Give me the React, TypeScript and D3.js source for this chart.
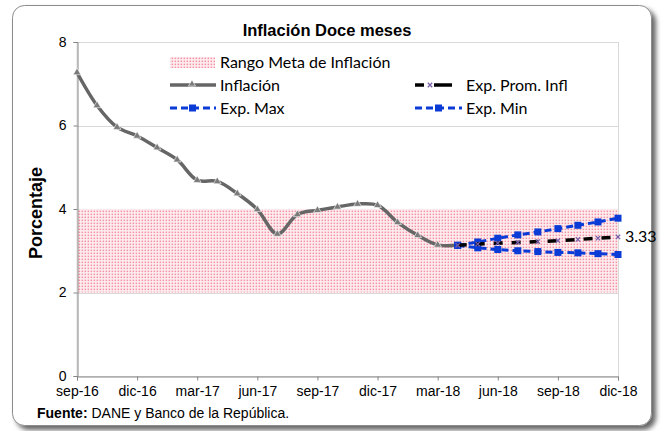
import * as d3 from 'd3';
import React, { useEffect, useRef } from 'react';

// month index 0 = sep-16 ... 27 = dic-18
const tickLabels = ['sep-16', 'dic-16', 'mar-17', 'jun-17', 'sep-17', 'dic-17', 'mar-18', 'jun-18', 'sep-18', 'dic-18'];
const yTicks = [0, 2, 4, 6, 8];

// Inflación: sep-16 .. abr-18
const inflacion = [7.27, 6.48, 5.96, 5.75, 5.47, 5.18, 4.69, 4.66, 4.37, 3.99, 3.4, 3.87, 3.97, 4.05, 4.12, 4.09, 3.68, 3.37, 3.14, 3.13];
// expectativas: abr-18 .. dic-18
const expStart = 19;
const expMax = [3.13, 3.21, 3.3, 3.38, 3.45, 3.53, 3.61, 3.69, 3.78];
const expMin = [3.13, 3.07, 3.03, 3.0, 2.98, 2.96, 2.95, 2.93, 2.91];
const expProm = [3.13, 3.16, 3.18, 3.2, 3.22, 3.24, 3.27, 3.3, 3.33];
const rangoMeta = [2, 4];

const W = 661;
const H = 431;
const plot = { left: 77, right: 618, top: 42, bottom: 376 };
const legendFont = 'Lato, "Open Sans", sans-serif';
const axisFont = 'Arial, "Liberation Sans", sans-serif';

const App = () => {
  const ref = useRef(null);

  useEffect(() => {
    const svg = d3.select(ref.current);
    svg.selectAll('*').remove();

    const x = d3.scaleLinear().domain([0, 27]).range([plot.left, plot.right]);
    const y = d3.scaleLinear().domain([0, 8]).range([plot.bottom, plot.top]);

    const defs = svg.append('defs');
    const pat = defs
      .append('pattern')
      .attr('id', 'dots')
      .attr('width', 3)
      .attr('height', 3)
      .attr('patternUnits', 'userSpaceOnUse');
    pat.append('rect').attr('width', 3).attr('height', 3).attr('fill', '#fdeef1');
    pat.append('rect').attr('x', 0.6).attr('y', 0.6).attr('width', 1.5).attr('height', 1.5).attr('fill', '#f4909f');

    const sh = defs.append('filter').attr('id', 'shadow').attr('x', '-5%').attr('y', '-5%').attr('width', '115%').attr('height', '115%');
    sh.append('feDropShadow').attr('dx', 4).attr('dy', 4).attr('stdDeviation', 2.5).attr('flood-color', '#000').attr('flood-opacity', 0.6);

    // outer frame
    svg
      .append('rect')
      .attr('x', 12.5)
      .attr('y', 5.5)
      .attr('width', 639)
      .attr('height', 420)
      .attr('rx', 12)
      .attr('fill', '#fff')
      .attr('stroke', '#8c8c8c')
      .attr('filter', 'url(#shadow)');

    // plot border + grid
    svg
      .append('rect')
      .attr('x', plot.left)
      .attr('y', plot.top + 0.5)
      .attr('width', plot.right - plot.left + 0.5)
      .attr('height', plot.bottom - plot.top)
      .attr('fill', 'none')
      .attr('stroke', '#d9d9d9');

    svg
      .append('g')
      .selectAll('line')
      .data(yTicks.filter(d => d > 0))
      .enter()
      .append('line')
      .attr('x1', plot.left)
      .attr('x2', plot.right)
      .attr('y1', d => Math.round(y(d)) + 0.5)
      .attr('y2', d => Math.round(y(d)) + 0.5)
      .attr('stroke', '#d9d9d9');

    // target range
    svg
      .append('rect')
      .attr('x', x(0))
      .attr('y', y(rangoMeta[1]))
      .attr('width', x(27) - x(0))
      .attr('height', y(rangoMeta[0]) - y(rangoMeta[1]))
      .attr('fill', 'url(#dots)');

    // axes
    const yAxis = svg
      .append('g')
      .attr('transform', `translate(${plot.left + 0.5},0)`)
      .call(d3.axisLeft(y).tickValues(yTicks).tickSize(4).tickPadding(7).tickFormat(d3.format('d')));
    yAxis.select('.domain').attr('stroke', '#868686');
    yAxis.selectAll('.tick line').attr('stroke', '#868686');
    yAxis.selectAll('text').attr('font-family', axisFont).attr('font-size', 14).attr('fill', '#000');

    const xAxis = svg
      .append('g')
      .attr('transform', `translate(0,${plot.bottom + 0.5})`)
      .call(
        d3
          .axisBottom(x)
          .tickValues(tickLabels.map((_, i) => i * 3))
          .tickSize(4)
          .tickPadding(6)
          .tickFormat((d, i) => tickLabels[i])
      );
    xAxis.select('.domain').attr('stroke', '#868686');
    xAxis.selectAll('.tick line').attr('stroke', '#868686');
    xAxis.selectAll('text').attr('font-family', axisFont).attr('font-size', 14).attr('fill', '#000');

    // series
    const infLine = d3
      .line()
      .x((d, i) => x(i))
      .y(d => y(d))
      .curve(d3.curveCatmullRom.alpha(0.5));
    const expLine = d3
      .line()
      .x((d, i) => x(i + expStart))
      .y(d => y(d));

    svg
      .append('path')
      .datum(inflacion)
      .attr('d', infLine)
      .attr('fill', 'none')
      .attr('stroke', '#666')
      .attr('stroke-width', 3.5);
    svg
      .append('g')
      .selectAll('path')
      .data(inflacion)
      .enter()
      .append('path')
      .attr('d', d3.symbol(d3.symbolTriangle, 26))
      .attr('transform', (d, i) => `translate(${x(i)},${y(d)})`)
      .attr('fill', '#7a7a7a')
      .attr('stroke', '#fff')
      .attr('stroke-width', 0.6);

    const blue = '#0b3bd6';
    [expMax, expMin].forEach(s => {
      svg
        .append('path')
        .datum(s)
        .attr('d', expLine)
        .attr('fill', 'none')
        .attr('stroke', blue)
        .attr('stroke-width', 3)
        .attr('stroke-dasharray', '7,4');
      svg
        .append('g')
        .selectAll('rect')
        .data(s)
        .enter()
        .append('rect')
        .attr('x', (d, i) => x(i + expStart) - 3.5)
        .attr('y', d => y(d) - 3.5)
        .attr('width', 7)
        .attr('height', 7)
        .attr('fill', blue);
    });

    svg
      .append('path')
      .datum(expProm)
      .attr('d', expLine)
      .attr('fill', 'none')
      .attr('stroke', '#000')
      .attr('stroke-width', 3.5)
      .attr('stroke-dasharray', '9,9');
    const cross = d3.symbol(d3.symbolX, 14);
    svg
      .append('g')
      .selectAll('path')
      .data(expProm)
      .enter()
      .append('path')
      .attr('d', cross)
      .attr('transform', (d, i) => `translate(${x(i + expStart)},${y(d)})`)
      .attr('fill', 'none')
      .attr('stroke', '#7a5fa8')
      .attr('stroke-width', 1.3);

    svg
      .append('text')
      .attr('x', x(27) + 7)
      .attr('y', y(expProm[expProm.length - 1]) + 5.5)
      .attr('font-family', legendFont)
      .attr('font-size', 16)
      .text(d3.format('.2f')(expProm[expProm.length - 1]));

    // title & labels
    svg
      .append('text')
      .attr('x', 327)
      .attr('y', 36)
      .attr('text-anchor', 'middle')
      .attr('font-family', axisFont)
      .attr('font-weight', 'bold')
      .attr('font-size', 16.5)
      .text('Inflación Doce meses');

    svg
      .append('text')
      .attr('transform', `translate(42,${(plot.top + plot.bottom) / 2 + 4}) rotate(-90)`)
      .attr('text-anchor', 'middle')
      .attr('font-family', axisFont)
      .attr('font-weight', 'bold')
      .attr('font-size', 18)
      .text('Porcentaje');

    const foot = svg
      .append('text')
      .attr('x', 37)
      .attr('y', 418)
      .attr('font-family', axisFont)
      .attr('font-size', 14);
    foot.append('tspan').attr('font-weight', 'bold').text('Fuente:');
    foot.append('tspan').text(' DANE y Banco de la República.');

    // legend
    const lg = svg.append('g').attr('font-family', legendFont).attr('font-size', 16);
    const addText = (tx, ty, t) =>
      lg.append('text').attr('x', tx).attr('y', ty + 5.5).text(t);

    lg.append('rect').attr('x', 170).attr('y', 57).attr('width', 45).attr('height', 11).attr('fill', 'url(#dots)');
    addText(220, 62, 'Rango Meta de Inflación');

    lg.append('line').attr('x1', 170).attr('x2', 216).attr('y1', 85).attr('y2', 85).attr('stroke', '#666').attr('stroke-width', 3.5);
    lg.append('path').attr('d', d3.symbol(d3.symbolTriangle, 22)).attr('transform', 'translate(192,84)').attr('fill', '#7a7a7a').attr('stroke', '#fff').attr('stroke-width', 0.6);
    addText(220, 85, 'Inflación');

    lg.append('line').attr('x1', 170).attr('x2', 216).attr('y1', 108).attr('y2', 108).attr('stroke', blue).attr('stroke-width', 3).attr('stroke-dasharray', '7,4');
    lg.append('rect').attr('x', 189).attr('y', 104.5).attr('width', 7).attr('height', 7).attr('fill', blue);
    addText(220, 108, 'Exp. Max');

    lg.append('line').attr('x1', 415).attr('x2', 424).attr('y1', 85).attr('y2', 85).attr('stroke', '#000').attr('stroke-width', 3.5);
    lg.append('line').attr('x1', 434).attr('x2', 452).attr('y1', 85).attr('y2', 85).attr('stroke', '#000').attr('stroke-width', 3.5);
    lg.append('path').attr('d', cross).attr('transform', 'translate(430,85)').attr('fill', 'none').attr('stroke', '#7a5fa8').attr('stroke-width', 1.3);
    addText(466, 85, 'Exp. Prom. Infl');

    lg.append('line').attr('x1', 415).attr('x2', 462).attr('y1', 108).attr('y2', 108).attr('stroke', blue).attr('stroke-width', 3).attr('stroke-dasharray', '7,4');
    lg.append('rect').attr('x', 435).attr('y', 104.5).attr('width', 7).attr('height', 7).attr('fill', blue);
    addText(466, 108, 'Exp. Min');
  }, []);

  return (
    <svg
      ref={ref}
      width={W}
      height={H}
      style={{ position: 'absolute', left: 0, top: 0, background: '#fff' }}
    />
  );
};

export default App;
